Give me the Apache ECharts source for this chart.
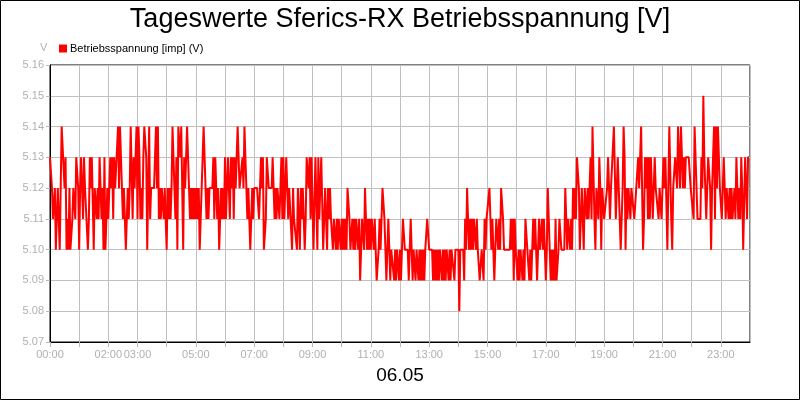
<!DOCTYPE html>
<html>
<head>
<meta charset="utf-8">
<script src="https://cdn.jsdelivr.net/npm/echarts@6/dist/echarts.min.js"></script>
<style>
  html, body { margin: 0; padding: 0; background: #fff; }
  #main { width: 800px; height: 400px; }
</style>
</head>
<body>
<div id="main"></div>
<script>
// one reading every 2 minutes, 30 per hour
var stepMinutes = 2;
var volts = [
  // 00
  5.13,5.13,5.12,5.11,5.11,5.12,5.10,5.10,5.12,5.11,5.10,5.12,5.14,5.14,5.14,5.12,5.13,5.10,5.11,5.10,5.12,5.10,5.10,5.11,5.12,5.12,5.11,5.13,5.13,5.12,
  // 01
  5.10,5.12,5.13,5.13,5.11,5.13,5.12,5.12,5.12,5.10,5.11,5.13,5.12,5.13,5.13,5.10,5.12,5.12,5.11,5.12,5.11,5.13,5.13,5.11,5.12,5.10,5.13,5.10,5.11,5.12,
  // 02
  5.11,5.11,5.13,5.12,5.13,5.11,5.13,5.12,5.12,5.12,5.14,5.12,5.14,5.14,5.12,5.11,5.12,5.11,5.10,5.10,5.12,5.11,5.12,5.14,5.14,5.11,5.13,5.12,5.13,5.14,
  // 03
  5.11,5.14,5.13,5.11,5.12,5.11,5.13,5.14,5.14,5.13,5.10,5.10,5.14,5.11,5.12,5.12,5.12,5.12,5.13,5.14,5.12,5.14,5.11,5.12,5.11,5.12,5.12,5.11,5.12,5.12,
  // 04
  5.10,5.12,5.11,5.12,5.11,5.12,5.14,5.14,5.12,5.11,5.13,5.10,5.14,5.14,5.13,5.14,5.12,5.10,5.13,5.12,5.13,5.14,5.14,5.12,5.11,5.12,5.11,5.12,5.11,5.12,
  // 05
  5.11,5.12,5.11,5.12,5.10,5.11,5.12,5.13,5.14,5.13,5.12,5.11,5.12,5.11,5.12,5.12,5.12,5.12,5.13,5.11,5.13,5.12,5.11,5.12,5.10,5.10,5.12,5.11,5.12,5.11,
  // 06
  5.13,5.11,5.12,5.13,5.13,5.11,5.13,5.12,5.13,5.11,5.13,5.12,5.12,5.14,5.14,5.12,5.12,5.12,5.13,5.12,5.14,5.14,5.12,5.11,5.12,5.12,5.10,5.11,5.12,5.11,
  // 07
  5.12,5.12,5.12,5.12,5.12,5.11,5.12,5.13,5.12,5.13,5.10,5.10,5.11,5.13,5.13,5.12,5.12,5.12,5.12,5.13,5.13,5.11,5.12,5.11,5.12,5.12,5.11,5.12,5.13,5.11,
  // 08
  5.13,5.11,5.12,5.13,5.13,5.11,5.12,5.12,5.12,5.10,5.12,5.11,5.11,5.11,5.10,5.12,5.12,5.10,5.12,5.11,5.12,5.12,5.10,5.11,5.13,5.13,5.12,5.13,5.11,5.13,
  // 09
  5.13,5.10,5.10,5.13,5.13,5.10,5.13,5.11,5.12,5.13,5.13,5.10,5.11,5.12,5.12,5.10,5.12,5.11,5.12,5.11,5.11,5.10,5.11,5.11,5.10,5.11,5.10,5.11,5.11,5.10,
  // 10
  5.11,5.10,5.11,5.10,5.11,5.10,5.12,5.12,5.11,5.10,5.10,5.11,5.10,5.11,5.10,5.11,5.11,5.10,5.11,5.09,5.10,5.11,5.11,5.10,5.12,5.11,5.10,5.11,5.10,5.11,
  // 11
  5.10,5.11,5.11,5.10,5.11,5.10,5.09,5.09,5.10,5.11,5.10,5.11,5.12,5.12,5.11,5.10,5.09,5.10,5.11,5.10,5.09,5.10,5.10,5.10,5.09,5.10,5.09,5.10,5.10,5.09,
  // 12
  5.10,5.09,5.10,5.11,5.11,5.10,5.10,5.10,5.10,5.09,5.10,5.11,5.10,5.09,5.10,5.10,5.09,5.10,5.10,5.09,5.10,5.09,5.10,5.09,5.10,5.09,5.10,5.10,5.11,5.11,
  // 13
  5.10,5.10,5.10,5.10,5.09,5.10,5.09,5.10,5.09,5.10,5.09,5.10,5.10,5.09,5.10,5.09,5.10,5.09,5.10,5.10,5.09,5.10,5.09,5.10,5.10,5.10,5.09,5.10,5.10,5.10,
  // 14
  5.10,5.08,5.10,5.10,5.10,5.10,5.09,5.11,5.10,5.12,5.12,5.10,5.11,5.10,5.11,5.10,5.11,5.11,5.10,5.11,5.10,5.10,5.09,5.09,5.10,5.10,5.09,5.11,5.10,5.11,
  // 15
  5.11,5.11,5.12,5.12,5.10,5.11,5.10,5.09,5.10,5.11,5.11,5.10,5.11,5.10,5.12,5.12,5.11,5.10,5.10,5.10,5.10,5.10,5.10,5.10,5.11,5.10,5.11,5.09,5.11,5.10,
  // 16
  5.10,5.09,5.10,5.09,5.10,5.10,5.09,5.10,5.09,5.11,5.11,5.10,5.10,5.09,5.10,5.09,5.10,5.11,5.10,5.11,5.10,5.09,5.10,5.11,5.10,5.10,5.11,5.10,5.11,5.10,
  // 17
  5.09,5.10,5.12,5.12,5.10,5.09,5.10,5.09,5.10,5.09,5.11,5.09,5.09,5.10,5.11,5.11,5.10,5.10,5.10,5.10,5.12,5.12,5.10,5.11,5.11,5.10,5.11,5.10,5.12,5.11,
  // 18
  5.12,5.11,5.13,5.13,5.12,5.10,5.10,5.12,5.11,5.10,5.12,5.12,5.11,5.12,5.11,5.12,5.13,5.11,5.14,5.14,5.11,5.10,5.12,5.12,5.11,5.13,5.12,5.10,5.12,5.12,
  // 19
  5.11,5.11,5.11,5.12,5.13,5.13,5.11,5.12,5.12,5.12,5.14,5.14,5.11,5.12,5.13,5.12,5.12,5.10,5.10,5.12,5.14,5.13,5.10,5.12,5.11,5.12,5.12,5.11,5.12,5.12,
  // 20
  5.12,5.11,5.11,5.12,5.12,5.13,5.12,5.12,5.14,5.14,5.10,5.11,5.13,5.12,5.13,5.11,5.13,5.11,5.13,5.13,5.11,5.12,5.13,5.12,5.12,5.12,5.11,5.12,5.12,5.11,
  // 21
  5.11,5.13,5.12,5.13,5.13,5.10,5.12,5.14,5.14,5.11,5.10,5.12,5.12,5.13,5.13,5.12,5.14,5.14,5.12,5.14,5.13,5.12,5.13,5.12,5.13,5.13,5.13,5.13,5.13,5.12,
  // 22
  5.12,5.12,5.11,5.14,5.14,5.12,5.11,5.11,5.11,5.11,5.13,5.12,5.15,5.13,5.12,5.11,5.12,5.13,5.13,5.12,5.10,5.12,5.13,5.14,5.11,5.14,5.12,5.14,5.13,5.12,
  // 23
  5.12,5.11,5.12,5.13,5.13,5.11,5.12,5.12,5.11,5.12,5.11,5.12,5.11,5.11,5.12,5.11,5.13,5.13,5.11,5.12,5.11,5.13,5.12,5.10,5.10,5.13,5.12,5.11,5.13,5.13
];
// hours that carry a label on the time axis (grid is every hour)
var labelHours = [0, 2, 3, 5, 7, 9, 11, 13, 15, 17, 19, 21, 23];
var yTicks = { min: 5.07, max: 5.16, step: 0.01 };

var seriesData = volts.map(function (v, i) {
  return [i * stepMinutes, v];
});

function pad(n) { return (n < 10 ? '0' : '') + n; }

var chart = echarts.init(document.getElementById('main'), null, { renderer: 'canvas' });

var option = {
  animation: false,
  backgroundColor: '#ffffff',
  textStyle: { fontFamily: 'Liberation Sans, Arial, sans-serif' },
  title: {
    text: 'Tageswerte Sferics-RX Betriebsspannung [V]',
    left: 'center',
    top: 1,
    textStyle: { fontSize: 27, fontWeight: 'normal', color: '#000' }
  },
  legend: {
    left: 54,
    top: 38,
    icon: 'rect',
    itemWidth: 8,
    itemHeight: 8,
    itemGap: 4,
    textStyle: { fontSize: 11, color: '#000', padding: [0, 0, 0, -2] },
    data: ['Betriebsspannung [imp] (V)']
  },
  grid: {
    left: 50,
    right: 50,
    top: 65,
    bottom: 58,
    show: true,
    borderColor: '#000',
    borderWidth: 1
  },
  xAxis: {
    type: 'value',
    min: 0,
    max: 1440,
    interval: 60,
    axisLine: { show: true, lineStyle: { color: '#000' } },
    axisTick: { show: true, length: 5, inside: false, lineStyle: { color: '#b8b8b8' } },
    splitLine: { show: true, lineStyle: { color: '#c0c0c0', width: 1 } },
    axisLabel: {
      color: '#b0b0b0',
      fontSize: 11,
      margin: 7,
      showMaxLabel: false,
      formatter: function (val) {
        var h = Math.round(val / 60);
        return labelHours.indexOf(h) >= 0 && h < 24 ? pad(h) + ':00' : '';
      }
    }
  },
  yAxis: {
    type: 'value',
    min: yTicks.min,
    max: yTicks.max,
    interval: yTicks.step,
    axisLine: { show: true, lineStyle: { color: '#000' } },
    axisTick: { show: true, length: 4, lineStyle: { color: '#b8b8b8' } },
    splitLine: { show: true, lineStyle: { color: '#c0c0c0', width: 1 } },
    axisLabel: {
      color: '#b0b0b0',
      fontSize: 11,
      margin: 6,
      formatter: function (v) { return v.toFixed(2); }
    }
  },
  graphic: [
    {
      type: 'rect',
      shape: { x: 0.5, y: 0.5, width: 799, height: 399 },
      style: { fill: 'none', stroke: '#000', lineWidth: 1 },
      silent: true
    },
    {
      type: 'text',
      left: 40,
      top: 42,
      style: { text: 'V', fill: '#b0b0b0', font: '11px Liberation Sans, Arial, sans-serif' }
    },
    {
      type: 'text',
      left: 'center',
      top: 366,
      style: { text: '06.05', fill: '#000', font: '19px Liberation Sans, Arial, sans-serif' }
    }
  ],
  series: [
    {
      name: 'Betriebsspannung [imp] (V)',
      type: 'line',
      data: seriesData,
      showSymbol: false,
      symbol: 'none',
      itemStyle: { color: '#ff0000' },
      lineStyle: { color: '#ff0000', width: 2 }
    }
  ]
};

chart.setOption(option);
</script>
</body>
</html>
